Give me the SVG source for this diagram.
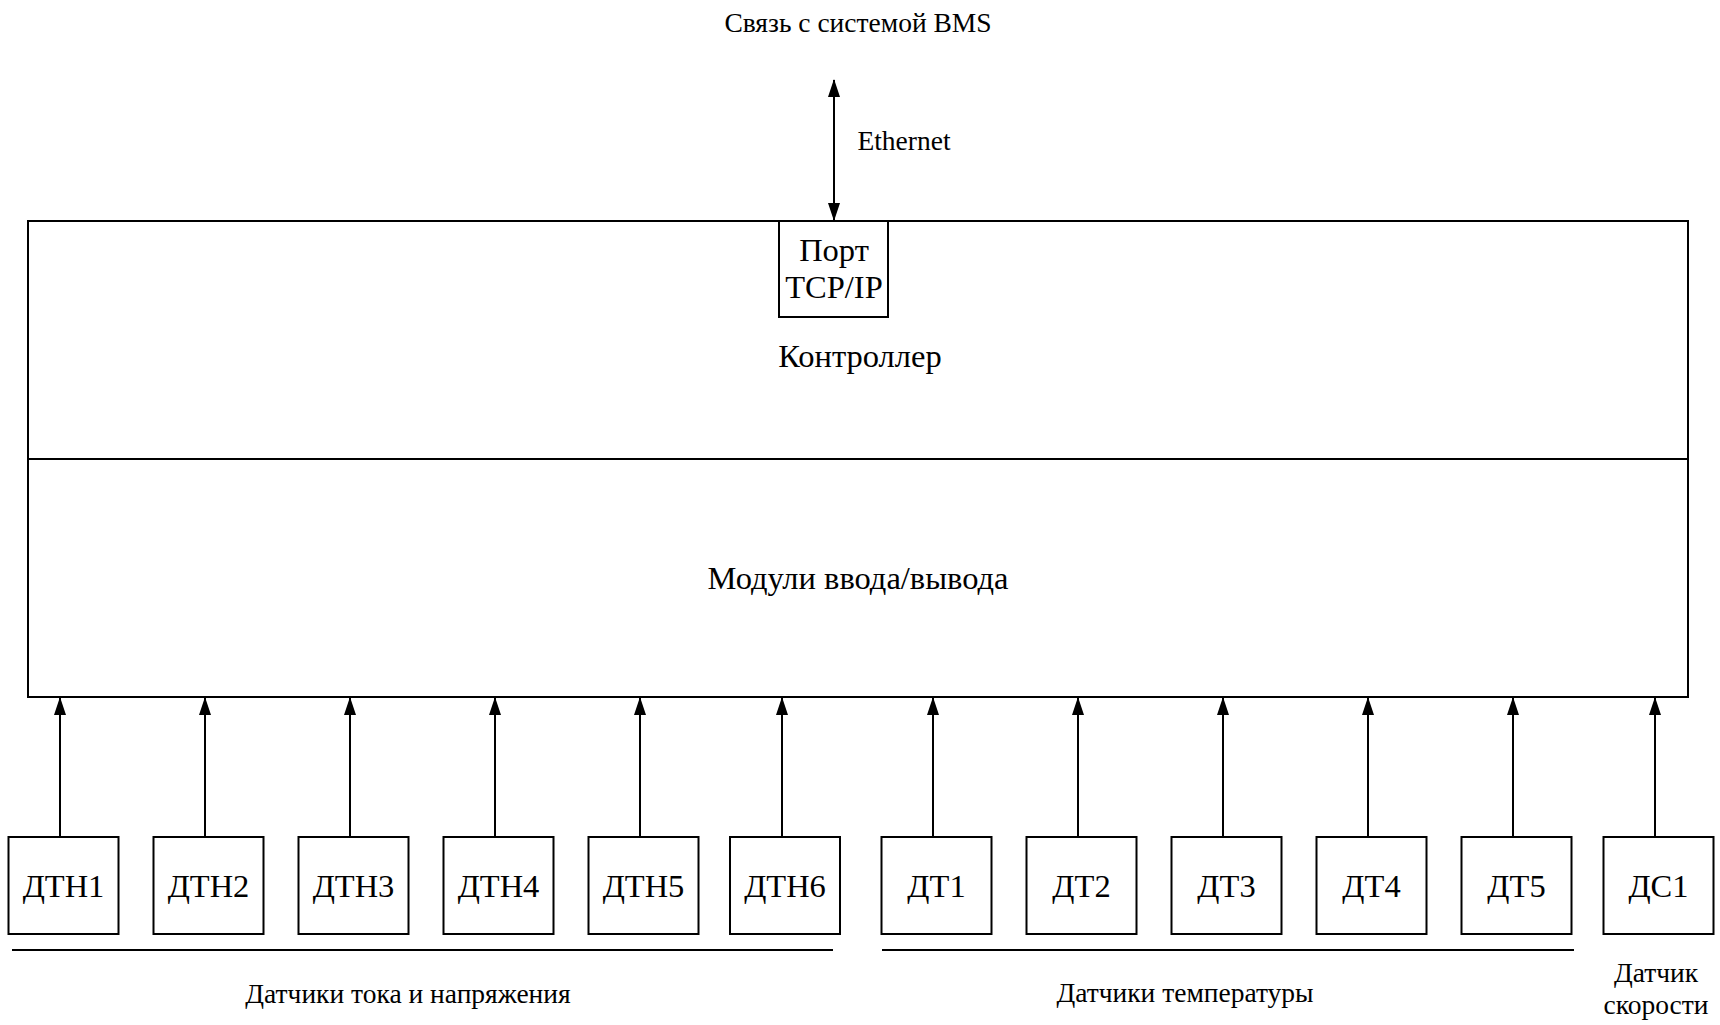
<svg xmlns="http://www.w3.org/2000/svg" width="1720" height="1025" viewBox="0 0 1720 1025">
  <style>
    .box { fill: #ffffff; stroke: #000000; stroke-width: 2; }
    .wire { fill: none; stroke: #000000; stroke-width: 2; }
    .txt { font-family: "Liberation Serif", "Times New Roman", serif; fill: #000000; text-anchor: middle; }
    .lbl { font-size: 32.5px; }
    .big { font-size: 32.5px; }
    .cap { font-size: 27.5px; }
  </style>
  <defs>
    <marker id="arrow" markerUnits="userSpaceOnUse" markerWidth="18" markerHeight="12" refX="17" refY="6" viewBox="0 0 18 12" orient="auto-start-reverse">
      <path d="M0,0 L18,6 L0,12 Z" fill="#000000"/>
    </marker>
  </defs>
  <rect width="1720" height="1025" fill="#ffffff"/>

  <text class="txt cap" x="858" y="32">Связь с системой BMS</text>
  <text class="txt cap" x="904" y="150">Ethernet</text>

  <!-- controller and I/O modules -->
  <g id="controller">
    <rect class="box" x="28" y="221" width="1660" height="238"/>
    <text class="txt big" x="860" y="367">Контроллер</text>
  </g>
  <g id="io-modules">
    <rect class="box" x="28" y="459" width="1660" height="238"/>
    <text class="txt big" x="858" y="589">Модули ввода/вывода</text>
  </g>
  <g id="tcp-port">
    <rect class="box" x="779" y="221" width="109" height="96"/>
    <text class="txt big" x="834" y="261">Порт</text>
    <text class="txt big" x="834" y="298">TCP/IP</text>
  </g>

  <!-- sensors -->
  <g id="dtn1"><rect class="box" x="8.5" y="837" width="110" height="97"/><text class="txt lbl" x="63.5" y="897">ДТН1</text></g>
  <g id="dtn2"><rect class="box" x="153.5" y="837" width="110" height="97"/><text class="txt lbl" x="208.5" y="897">ДТН2</text></g>
  <g id="dtn3"><rect class="box" x="298.5" y="837" width="110" height="97"/><text class="txt lbl" x="353.5" y="897">ДТН3</text></g>
  <g id="dtn4"><rect class="box" x="443.5" y="837" width="110" height="97"/><text class="txt lbl" x="498.5" y="897">ДТН4</text></g>
  <g id="dtn5"><rect class="box" x="588.5" y="837" width="110" height="97"/><text class="txt lbl" x="643.5" y="897">ДТН5</text></g>
  <g id="dtn6"><rect class="box" x="730" y="837" width="110" height="97"/><text class="txt lbl" x="785" y="897">ДТН6</text></g>
  <g id="dt1"><rect class="box" x="881.5" y="837" width="110" height="97"/><text class="txt lbl" x="936.5" y="897">ДТ1</text></g>
  <g id="dt2"><rect class="box" x="1026.5" y="837" width="110" height="97"/><text class="txt lbl" x="1081.5" y="897">ДТ2</text></g>
  <g id="dt3"><rect class="box" x="1171.5" y="837" width="110" height="97"/><text class="txt lbl" x="1226.5" y="897">ДТ3</text></g>
  <g id="dt4"><rect class="box" x="1316.5" y="837" width="110" height="97"/><text class="txt lbl" x="1371.5" y="897">ДТ4</text></g>
  <g id="dt5"><rect class="box" x="1461.5" y="837" width="110" height="97"/><text class="txt lbl" x="1516.5" y="897">ДТ5</text></g>
  <g id="ds1"><rect class="box" x="1603.5" y="837" width="110" height="97"/><text class="txt lbl" x="1658.5" y="897">ДС1</text></g>

  <!-- connectors -->
  <g id="connectors">
    <line class="wire" x1="834" y1="80" x2="834" y2="220" marker-start="url(#arrow)" marker-end="url(#arrow)"/>
    <line class="wire" x1="60" y1="837" x2="60" y2="698" marker-end="url(#arrow)"/>
    <line class="wire" x1="205" y1="837" x2="205" y2="698" marker-end="url(#arrow)"/>
    <line class="wire" x1="350" y1="837" x2="350" y2="698" marker-end="url(#arrow)"/>
    <line class="wire" x1="495" y1="837" x2="495" y2="698" marker-end="url(#arrow)"/>
    <line class="wire" x1="640" y1="837" x2="640" y2="698" marker-end="url(#arrow)"/>
    <line class="wire" x1="782" y1="837" x2="782" y2="698" marker-end="url(#arrow)"/>
    <line class="wire" x1="933" y1="837" x2="933" y2="698" marker-end="url(#arrow)"/>
    <line class="wire" x1="1078" y1="837" x2="1078" y2="698" marker-end="url(#arrow)"/>
    <line class="wire" x1="1223" y1="837" x2="1223" y2="698" marker-end="url(#arrow)"/>
    <line class="wire" x1="1368" y1="837" x2="1368" y2="698" marker-end="url(#arrow)"/>
    <line class="wire" x1="1513" y1="837" x2="1513" y2="698" marker-end="url(#arrow)"/>
    <line class="wire" x1="1655" y1="837" x2="1655" y2="698" marker-end="url(#arrow)"/>
  </g>

  <!-- group brackets and captions -->
  <line class="wire" x1="12" y1="950" x2="833" y2="950"/>
  <line class="wire" x1="882" y1="950" x2="1574" y2="950"/>
  <text class="txt cap" x="408" y="1003">Датчики тока и напряжения</text>
  <text class="txt cap" x="1185" y="1002">Датчики температуры</text>
  <text class="txt cap" x="1656" y="982">Датчик</text>
  <text class="txt cap" x="1656" y="1014">скорости</text>
</svg>
